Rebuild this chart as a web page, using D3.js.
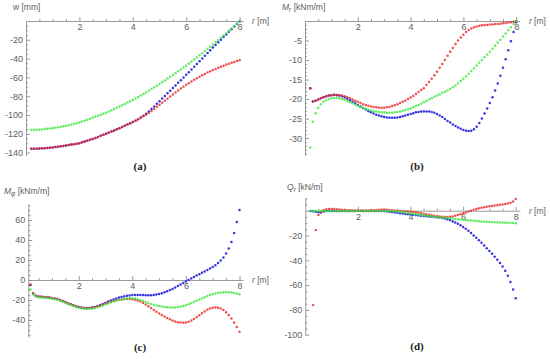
<!DOCTYPE html>
<html>
<head>
  <meta charset="utf-8">
  <title>Plate results</title>
  <script src="https://d3js.org/d3.v7.min.js"></script>
  <style>
    body { margin: 0; background: #fff; }
    svg { display: block; }
  </style>
</head>
<body>
<script>
// radial positions of the sample points (m)
const r = [0.2,0.3,0.4,0.5,0.6,0.7,0.8,0.9,1.0,1.1,
  1.2,1.3,1.4,1.5,1.6,1.7,1.8,1.9,2.0,2.1,
  2.2,2.3,2.4,2.5,2.6,2.7,2.8,2.9,3.0,3.1,
  3.2,3.3,3.4,3.5,3.6,3.7,3.8,3.9,4.0,4.1,
  4.2,4.3,4.4,4.5,4.6,4.7,4.8,4.9,5.0,5.1,
  5.2,5.3,5.4,5.5,5.6,5.7,5.8,5.9,6.0,6.1,
  6.2,6.3,6.4,6.5,6.6,6.7,6.8,6.9,7.0,7.1,
  7.2,7.3,7.4,7.5,7.6,7.7,7.8,7.9,8.0];

// (a) deflection w [mm]
const wBlue = [-136.0,-135.9,-135.8,-135.7,-135.5,-135.3,-135.1,-134.8,-134.5,-134.1,
  -133.7,-133.3,-132.9,-132.5,-132.0,-131.5,-131.0,-130.5,-130.0,-129.1,
  -128.2,-127.3,-126.4,-125.5,-124.4,-123.3,-122.2,-121.1,-120.0,-118.8,
  -117.6,-116.4,-115.2,-114.0,-112.7,-111.4,-110.1,-108.8,-107.5,-106.0,
  -104.4,-102.6,-100.7,-98.6,-96.2,-93.6,-90.9,-88.1,-85.3,-82.5,
  -79.7,-76.9,-74.1,-71.3,-68.5,-65.7,-62.9,-60.1,-57.3,-54.4,
  -51.5,-48.6,-45.7,-42.8,-39.9,-37.0,-34.1,-31.2,-28.3,-25.5,
  -22.7,-19.9,-17.1,-14.3,-11.5,-8.7,-5.9,-3.1,-0.5];
const wRed = [-136.0,-135.9,-135.8,-135.7,-135.5,-135.3,-135.1,-134.8,-134.5,-134.1,
  -133.7,-133.3,-132.9,-132.5,-132.0,-131.5,-131.0,-130.5,-130.0,-129.1,
  -128.2,-127.3,-126.4,-125.5,-124.4,-123.3,-122.2,-121.1,-120.0,-118.8,
  -117.6,-116.4,-115.2,-114.0,-112.7,-111.4,-110.1,-108.8,-107.5,-106.0,
  -104.5,-103.0,-101.4,-99.7,-97.8,-95.7,-93.5,-91.3,-89.2,-87.0,
  -84.8,-82.6,-80.4,-78.2,-76.1,-74.0,-71.9,-69.9,-67.9,-66.1,
  -64.3,-62.6,-60.9,-59.3,-57.8,-56.3,-54.9,-53.5,-52.2,-51.0,
  -49.8,-48.6,-47.5,-46.4,-45.4,-44.4,-43.5,-42.6,-41.8];
const wGreen = [-116.0,-115.9,-115.8,-115.6,-115.3,-115.0,-114.7,-114.4,-114.0,-113.5,
  -113.0,-112.5,-112.0,-111.5,-110.8,-110.1,-109.4,-108.7,-108.0,-107.0,
  -106.0,-105.0,-104.0,-103.0,-101.9,-100.8,-99.7,-98.6,-97.5,-96.2,
  -94.9,-93.6,-92.3,-91.0,-89.6,-88.2,-86.8,-85.4,-84.0,-82.4,
  -80.8,-79.2,-77.6,-76.0,-74.2,-72.4,-70.6,-68.8,-67.0,-65.1,
  -63.2,-61.3,-59.4,-57.5,-55.5,-53.5,-51.5,-49.5,-47.5,-45.3,
  -43.1,-40.9,-38.7,-36.5,-34.2,-31.9,-29.6,-27.3,-25.0,-22.6,
  -20.2,-17.8,-15.4,-13.0,-10.5,-8.0,-5.5,-3.0,-0.5];

// (b) radial moment Mr [kNm/m]
const mrBlue = [-17.2,-20.6,-20.4,-20.1,-19.8,-19.5,-19.3,-19.1,-19.0,-18.9,
  -19.0,-19.1,-19.3,-19.6,-19.9,-20.3,-20.7,-21.1,-21.5,-21.9,
  -22.3,-22.7,-23.1,-23.4,-23.7,-24.0,-24.2,-24.4,-24.6,-24.7,
  -24.8,-24.8,-24.8,-24.7,-24.6,-24.4,-24.2,-24.0,-23.8,-23.6,
  -23.4,-23.3,-23.2,-23.2,-23.2,-23.2,-23.3,-23.5,-23.8,-24.2,
  -24.6,-25.1,-25.6,-26.0,-26.5,-26.9,-27.3,-27.6,-27.9,-28.1,
  -28.2,-28.1,-27.7,-27.1,-26.1,-25.0,-23.7,-22.4,-21.0,-19.5,
  -17.8,-16.0,-14.0,-12.0,-9.8,-7.5,-5.2,-2.8,-0.3];
const mrRed = [-17.2,-20.6,-20.4,-20.1,-19.8,-19.5,-19.3,-19.1,-19.0,-18.9,
  -18.9,-19.0,-19.1,-19.3,-19.5,-19.8,-20.1,-20.4,-20.7,-21.0,
  -21.3,-21.5,-21.7,-21.9,-22.0,-22.1,-22.2,-22.2,-22.2,-22.1,
  -22.0,-21.8,-21.6,-21.3,-21.0,-20.7,-20.4,-20.0,-19.6,-19.2,
  -18.7,-18.2,-17.7,-17.2,-16.4,-15.6,-14.8,-13.9,-13.0,-12.0,
  -11.0,-10.0,-8.9,-7.9,-6.9,-5.9,-5.0,-4.2,-3.5,-2.8,
  -2.3,-1.9,-1.6,-1.4,-1.2,-1.1,-1.0,-1.0,-0.9,-0.9,
  -0.8,-0.8,-0.7,-0.6,-0.5,-0.4,-0.3,-0.2,0.0];
const mrGreen = [-32.4,-25.8,-23.6,-22.2,-21.3,-20.7,-20.3,-20.0,-19.8,-19.7,
  -19.7,-19.8,-20.0,-20.2,-20.5,-20.8,-21.1,-21.4,-21.7,-22.0,
  -22.3,-22.5,-22.7,-22.9,-23.1,-23.2,-23.3,-23.4,-23.4,-23.5,
  -23.5,-23.5,-23.4,-23.3,-23.2,-23.0,-22.8,-22.6,-22.4,-22.1,
  -21.8,-21.5,-21.2,-20.8,-20.5,-20.1,-19.8,-19.4,-19.1,-18.8,
  -18.4,-18.1,-17.8,-17.4,-17.0,-16.5,-16.0,-15.4,-14.8,-14.2,
  -13.5,-12.8,-12.1,-11.4,-10.7,-10.0,-9.3,-8.6,-7.9,-7.1,
  -6.3,-5.5,-4.8,-4.0,-3.2,-2.4,-1.6,-0.8,0.0];

// (c) tangential moment Mphi [kNm/m]
const mpBlue = [-5.0,-13.5,-15.8,-16.5,-16.8,-17.0,-17.2,-17.5,-17.9,-18.4,
  -19.1,-20.0,-21.0,-22.1,-23.2,-24.3,-25.3,-26.2,-26.9,-27.5,
  -27.9,-28.0,-27.9,-27.5,-26.9,-26.1,-25.1,-24.0,-22.8,-21.6,
  -20.5,-19.4,-18.4,-17.6,-16.9,-16.3,-15.8,-15.4,-15.1,-15.0,
  -15.0,-15.0,-15.1,-15.2,-15.2,-15.2,-15.0,-14.6,-14.0,-13.2,
  -12.3,-11.3,-10.1,-8.9,-7.5,-6.0,-4.5,-3.0,-1.5,0.0,
  1.5,3.0,4.4,5.8,7.2,8.6,10.0,11.5,13.0,14.8,
  17.0,19.6,22.6,26.5,31.5,38.0,47.0,58.0,70.0];
const mpRed = [-4.5,-13.5,-15.8,-16.5,-16.8,-17.0,-17.2,-17.5,-17.9,-18.4,
  -19.1,-20.0,-21.0,-22.1,-23.2,-24.3,-25.3,-26.2,-27.0,-27.6,
  -28.0,-28.2,-28.1,-27.8,-27.3,-26.6,-25.7,-24.7,-23.6,-22.6,
  -21.7,-20.9,-20.3,-19.8,-19.4,-19.1,-19.0,-19.0,-19.2,-19.7,
  -20.5,-21.6,-23.0,-24.6,-26.3,-28.1,-29.9,-31.7,-33.4,-35.0,
  -36.5,-38.0,-39.3,-40.5,-41.5,-42.2,-42.6,-42.7,-42.4,-41.7,
  -40.6,-39.1,-37.3,-35.3,-33.3,-31.4,-29.8,-28.5,-27.7,-27.4,
  -27.7,-28.6,-30.1,-32.2,-35.0,-38.4,-42.4,-46.9,-51.7];
const mpGreen = [-9.3,-14.5,-16.5,-17.2,-17.5,-17.7,-17.9,-18.2,-18.6,-19.1,
  -19.8,-20.7,-21.7,-22.8,-23.9,-25.0,-26.0,-26.9,-27.7,-28.3,
  -28.7,-28.9,-28.8,-28.5,-27.9,-27.2,-26.4,-25.4,-24.4,-23.4,
  -22.4,-21.5,-20.7,-20.0,-19.4,-18.9,-18.5,-18.3,-18.3,-18.6,
  -19.2,-20.0,-21.0,-22.0,-23.0,-23.9,-24.7,-25.4,-26.0,-26.5,
  -26.9,-27.2,-27.4,-27.5,-27.4,-27.1,-26.6,-26.0,-25.2,-24.2,
  -23.1,-21.9,-20.7,-19.5,-18.3,-17.2,-16.1,-15.1,-14.2,-13.4,
  -12.8,-12.4,-12.2,-12.1,-12.2,-12.5,-13.0,-13.6,-14.3];

// (d) shear force Qr [kN/m]; null = outside the plotted range
const qrBlue = [-0.3,-0.5,-0.8,-1.2,-1.4,-0.6,-0.3,-0.2,-0.2,-0.2,
  -0.2,-0.2,-0.2,-0.2,-0.2,-0.2,-0.2,-0.2,-0.2,-0.2,
  -0.2,-0.2,-0.2,-0.2,-0.2,-0.2,-0.2,-0.2,-0.3,-0.5,
  -0.8,-1.1,-1.4,-1.7,-2.0,-2.3,-2.6,-2.8,-3.0,-3.3,
  -3.5,-3.8,-4.0,-4.2,-4.4,-4.6,-4.8,-5.0,-5.2,-5.5,
  -5.8,-6.3,-6.9,-7.6,-8.5,-9.5,-10.6,-11.8,-13.1,-14.6,
  -16.2,-18.0,-19.9,-21.8,-23.8,-25.9,-28.0,-30.2,-32.5,-34.8,
  -37.2,-39.6,-42.2,-45.0,-48.5,-52.5,-57.5,-63.5,-70.7];
const qrRed = [null,-76.0,-15.6,-3.5,-0.8,0.6,1.2,1.4,1.4,1.3,
  1.2,1.0,0.8,0.6,0.4,0.3,0.2,0.1,0.1,0.1,
  0.1,0.1,0.2,0.3,0.4,0.6,0.8,0.9,0.9,0.8,
  0.6,0.4,0.2,0.0,-0.2,-0.4,-0.5,-0.6,-0.8,-1.0,
  -1.3,-1.6,-2.0,-2.4,-2.8,-3.2,-3.6,-4.0,-4.3,-4.6,
  -4.8,-5.0,-5.0,-4.9,-4.6,-4.1,-3.5,-2.8,-2.1,-1.4,
  -0.7,0.0,0.7,1.3,1.9,2.4,2.8,3.2,3.5,3.8,
  4.1,4.4,4.7,5.0,5.4,5.8,6.4,7.4,9.4];
const qrGreen = [-0.2,-0.2,-0.2,-0.2,-0.2,-0.2,-0.2,-0.2,-0.2,-0.2,
  -0.2,-0.2,-0.2,-0.2,-0.2,-0.2,-0.2,-0.2,-0.2,-0.2,
  -0.2,-0.2,-0.2,-0.2,-0.2,-0.2,-0.2,-0.2,-0.2,-0.2,
  -0.2,-0.3,-0.4,-0.6,-0.8,-1.1,-1.5,-1.8,-2.2,-2.5,
  -2.8,-3.1,-3.4,-3.7,-4.0,-4.3,-4.5,-4.8,-5.0,-5.2,
  -5.4,-5.6,-5.8,-6.0,-6.3,-6.6,-6.9,-7.1,-7.3,-7.5,
  -7.7,-7.9,-8.1,-8.3,-8.5,-8.7,-8.9,-9.0,-9.1,-9.2,
  -9.3,-9.4,-9.5,-9.6,-9.7,-9.8,-9.9,-10.0,-10.2];

// tick labels
const xTicks = [2, 4, 6, 8];
const wTicks = [-20, -40, -60, -80, -100, -120, -140];
const mrTicks = [-5, -10, -15, -20, -25, -30];
const mpTicks = [60, 40, 20, 0, -20, -40];
const qrTicks = [-20, -40, -60, -80, -100];

const colors = {blue: "#2b2be0", red: "#ec2626", green: "#3be83b"};
const axisColor = "#8f8f8f", textColor = "#5e5e5e";

const panels = [
  {series: [wBlue, wRed, wGreen], ticks: wTicks, minorStep: 5,
   x0: 26, ux: 26.7, y0: 21, uy: 0.94, xFrom: 0, xTo: 8.13, yFrom: 0, yTo: -143.5,
   sym: "w", sub: "", unit: " [mm]", labX: 13, labY: 10,
   cap: "(a)", capX: 140, capY: 170},
  {series: [mrBlue, mrRed, mrGreen], ticks: mrTicks, minorStep: 1,
   x0: 305, ux: 26.4, y0: 21, uy: 3.904, xFrom: 0, xTo: 8.14, yFrom: 0, yTo: -34.4,
   sym: "M", sub: "r", unit: " [kNm/m]", labX: 282, labY: 10,
   cap: "(b)", capX: 417, capY: 170},
  {series: [mpBlue, mpRed, mpGreen], ticks: mpTicks, minorStep: 5,
   x0: 25.1, ux: 26.8, y0: 280, uy: 1.0, xFrom: 0.12, xTo: 8.13, yFrom: 76, yTo: -57,
   sym: "M", sub: "\u03c6", unit: " [kNm/m]", labX: 4, labY: 194,
   cap: "(c)", capX: 140, capY: 351},
  {series: [qrBlue, qrRed, qrGreen], ticks: qrTicks, minorStep: 5,
   x0: 305.3, ux: 26.3, y0: 210.7, uy: 1.24, xFrom: 0, xTo: 8.16, yFrom: 10.5, yTo: -100,
   sym: "Q", sub: "r", unit: " [kN/m]", labX: 287, labY: 190,
   cap: "(d)", capX: 417, capY: 350}
];

const svg = d3.select("body").append("svg")
  .attr("width", 550)
  .attr("height", 359);

panels.forEach(function(p) {
  var x = d3.scaleLinear().domain([0, 8]).range([p.x0, p.x0 + 8 * p.ux]);
  var y = d3.scaleLinear().domain([0, -100]).range([p.y0, p.y0 + 100 * p.uy]);

  // axis scales cover just the drawn axis lines
  var xa = d3.scaleLinear().domain([p.xFrom, p.xTo]).range([x(p.xFrom), x(p.xTo)]);
  var ya = d3.scaleLinear().domain([p.yFrom, p.yTo]).range([y(p.yFrom), y(p.yTo)]);

  var g = svg.append("g");

  var styleAxis = sel => {
    sel.attr("font-family", "Liberation Sans, Arial, sans-serif").attr("font-size", 9);
    sel.selectAll(".domain").attr("stroke", axisColor).attr("stroke-width", 0.9);
    sel.selectAll(".tick line").attr("stroke", axisColor).attr("stroke-width", 0.9);
    sel.selectAll(".tick text").attr("fill", textColor);
  };

  var xMinor = d3.range(0.5, 8.01, 0.5).filter(v => v >= p.xFrom && xTicks.indexOf(v) < 0);
  g.append("g")
    .attr("transform", `translate(0,${y(0)})`)
    .call(d3.axisBottom(xa).tickValues(xMinor).tickSizeInner(-2).tickSizeOuter(0).tickFormat(""))
    .call(styleAxis)
    .call(s => s.select(".domain").remove());
  g.append("g")
    .attr("transform", `translate(0,${y(0)})`)
    .call(d3.axisBottom(xa).tickValues(xTicks).tickSizeInner(-4).tickSizeOuter(0).tickPadding(3)
      .tickFormat(d => String(d)))
    .call(styleAxis);

  var yMinor = d3.range(Math.ceil(p.yTo / p.minorStep) * p.minorStep, p.yFrom + 0.01, p.minorStep)
    .filter(v => p.ticks.indexOf(v) < 0 && v !== 0);
  g.append("g")
    .attr("transform", `translate(${x(p.xFrom)},0)`)
    .call(d3.axisLeft(ya).tickValues(yMinor).tickSizeInner(-2).tickSizeOuter(0).tickFormat(""))
    .call(styleAxis)
    .call(s => s.select(".domain").remove());
  g.append("g")
    .attr("transform", `translate(${x(p.xFrom)},0)`)
    .call(d3.axisLeft(ya).tickValues(p.ticks).tickSizeInner(-4).tickSizeOuter(0).tickPadding(3)
      .tickFormat(d => String(d)))
    .call(styleAxis);

  // axis labels
  var lab = g.append("text")
    .attr("x", p.labX).attr("y", p.labY)
    .attr("font-family", "Liberation Sans, Arial, sans-serif")
    .attr("font-size", 8.5)
    .attr("fill", textColor);
  lab.append("tspan").attr("font-style", p.sym === "w" ? "normal" : "italic").text(p.sym);
  if (p.sub) {
    lab.append("tspan").attr("font-style", "italic").attr("font-size", 6.5).attr("dy", 2).text(p.sub);
    lab.append("tspan").attr("dy", -2).text(p.unit);
  } else {
    lab.append("tspan").text(p.unit);
  }

  var rl = g.append("text")
    .attr("x", xa.range()[1] + 9).attr("y", y(0) + 3)
    .attr("font-family", "Liberation Sans, Arial, sans-serif")
    .attr("font-size", 8.5)
    .attr("fill", textColor);
  rl.append("tspan").attr("font-style", "italic").text("r");
  rl.append("tspan").text(" [m]");

  // data points: blue first, red and green over it
  var names = ["blue", "red", "green"];
  p.series.forEach(function(vals, k) {
    var pts = vals.map((v, i) => ({r: r[i], v: v})).filter(d => d.v !== null);
    g.append("g")
      .attr("fill", colors[names[k]])
      .attr("fill-opacity", k === 0 ? 0.95 : 0.8)
      .selectAll("circle")
      .data(pts)
      .join("circle")
        .attr("cx", d => x(d.r))
        .attr("cy", d => y(d.v))
        .attr("r", 1.25);
  });

  g.append("text")
    .attr("x", p.capX).attr("y", p.capY)
    .attr("text-anchor", "middle")
    .attr("font-family", "Liberation Serif, Times New Roman, serif")
    .attr("font-weight", "bold")
    .attr("font-size", 11)
    .attr("fill", "#222")
    .text(p.cap);
});
</script>
</body>
</html>
